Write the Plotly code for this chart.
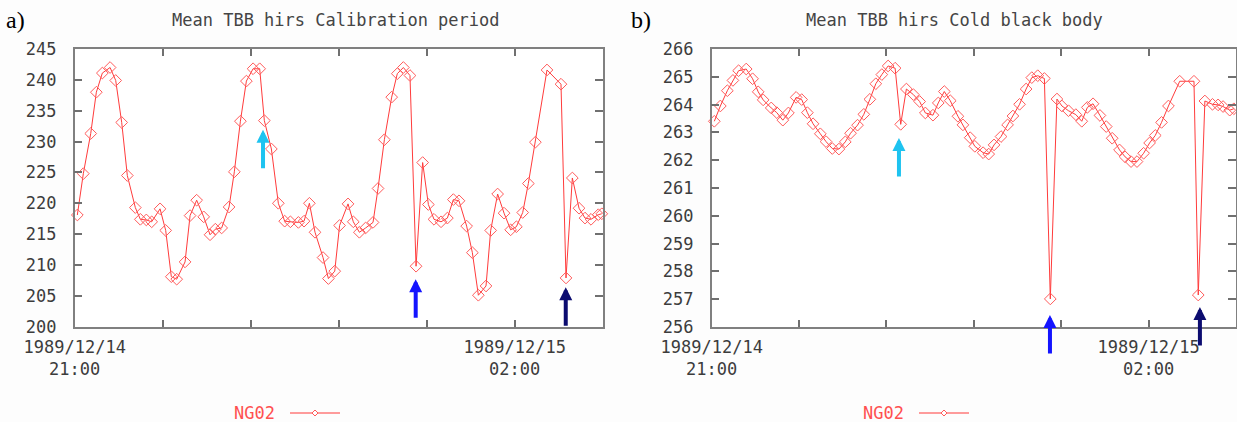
import pandas as pd
import plotly.graph_objects as go

W, H = 1237, 422

# ---------------- data ----------------
start_time = "1989-12-14 21:00"
series_name = "NG02"
title_a = "Mean TBB hirs Calibration period"
title_b = "Mean TBB hirs Cold black body"

# hours after 21:00
a_hours = [0.030, 0.098, 0.182, 0.246, 0.314, 0.402, 0.466, 0.534, 0.598, 0.689, 0.746, 0.814, 0.875,
           0.970, 1.034, 1.098, 1.159, 1.254, 1.311, 1.386, 1.466, 1.538, 1.598, 1.670, 1.754, 1.814,
           1.883, 1.951, 2.027, 2.102, 2.155, 2.235, 2.314, 2.386, 2.451, 2.542, 2.606, 2.667, 2.731,
           2.822, 2.883, 2.955, 3.010, 3.106, 3.166, 3.235, 3.306, 3.390, 3.447, 3.519, 3.602, 3.666,
           3.735, 3.810, 3.879, 3.954, 4.019, 4.083, 4.163, 4.235, 4.303, 4.367, 4.454, 4.519, 4.587,
           4.674, 4.727, 4.806, 4.879, 4.954, 5.019, 5.091, 5.155, 5.235, 5.367, 5.526, 5.583, 5.655,
           5.731, 5.799, 5.867, 5.950, 5.990]
a_vals = [218.1, 224.8, 231.3, 238.0, 241.1, 242.0, 239.9, 233.1, 224.5, 219.3, 217.4, 217.3, 217.0,
          219.1, 215.6, 208.1, 207.7, 210.5, 218.0, 220.5, 217.8, 214.9, 215.8, 216.0, 219.4, 225.1,
          233.3, 239.8, 241.8, 241.8, 233.4, 228.8, 220.0, 217.1, 217.0, 216.9, 217.1, 220.0, 215.3,
          211.2, 207.8, 209.0, 216.4, 219.9, 217.0, 215.3, 216.0, 216.9, 222.4, 230.3, 237.2, 241.0,
          242.0, 240.7, 209.8, 226.6, 219.8, 217.4, 217.0, 217.6, 220.6, 220.4, 216.3, 212.0, 205.1,
          206.6, 215.6, 221.5, 218.4, 215.7, 216.2, 218.5, 223.2, 229.9, 241.6, 239.3, 207.9, 224.1,
          219.2, 217.6, 217.4, 218.15, 218.3]

b_hours = [0.030, 0.099, 0.179, 0.243, 0.308, 0.395, 0.468, 0.532, 0.589, 0.681, 0.745, 0.814, 0.878,
           0.966, 1.030, 1.095, 1.160, 1.243, 1.308, 1.380, 1.456, 1.529, 1.589, 1.669, 1.741, 1.810,
           1.878, 1.947, 2.019, 2.099, 2.163, 2.228, 2.308, 2.380, 2.445, 2.532, 2.593, 2.662, 2.730,
           2.818, 2.875, 2.958, 3.011, 3.106, 3.170, 3.231, 3.311, 3.386, 3.447, 3.523, 3.598, 3.663,
           3.731, 3.807, 3.875, 3.951, 4.008, 4.083, 4.167, 4.235, 4.299, 4.364, 4.443, 4.515, 4.583,
           4.667, 4.731, 4.799, 4.867, 4.943, 5.011, 5.076, 5.148, 5.227, 5.356, 5.519, 5.568, 5.644,
           5.731, 5.795, 5.852, 5.928, 5.975]
b_vals = [263.4, 263.95, 264.5, 264.87, 265.22, 265.28, 264.93, 264.46, 264.17, 263.88, 263.71, 263.44,
          263.7, 264.26, 264.18, 263.71, 263.31, 262.95, 262.67, 262.42, 262.4, 262.66, 262.97, 263.26,
          263.65, 264.19, 264.75, 265.08, 265.39, 265.31, 263.29, 264.56, 264.36, 264.11, 263.7, 263.62,
          264.06, 264.47, 264.14, 263.58, 263.27, 262.81, 262.5, 262.27, 262.22, 262.55, 262.85, 263.27,
          263.59, 264.01, 264.56, 264.97, 265.04, 264.94, 257.01, 264.2, 263.95, 263.78, 263.64, 263.4,
          263.9, 264.03, 263.61, 263.21, 262.79, 262.37, 262.12, 261.95, 261.95, 262.25, 262.62, 262.89,
          263.36, 263.95, 264.84, 264.84, 257.15, 264.13, 264.01, 263.99, 263.93, 263.8, 263.85]

tick_hours = [0, 1, 2, 3, 4, 5, 6]
tick_labels = ["1989/12/14<br>21:00", "", "", "", "", "1989/12/15<br>02:00", ""]
a_yticks = [200, 205, 210, 215, 220, 225, 230, 235, 240, 245]
b_yticks = [256, 257, 258, 259, 260, 261, 262, 263, 264, 265, 266]

# arrows: (hours, value at arrow tip, colour)
a_arrows = [(2.14, 231.9, "#1ec3f0"), (3.875, 207.7, "#1414ff"), (5.58, 206.4, "#0c0c70")]
b_arrows = [(2.143, 262.8, "#1ec3f0"), (3.871, 256.43, "#1414ff"), (5.587, 256.72, "#0c0c70")]

# ---------------- helpers ----------------
t0 = pd.Timestamp(start_time)


def to_time(hours):
    return [t0 + pd.Timedelta(hours=h) for h in hours]


def px(x):
    return x / W


def py(y):
    return 1 - y / H


LINE_COLOR = "#ff3b3b"
MARK_COLOR = "#ff5a5a"
MONO = "DejaVu Sans Mono"
TXT = "#3c3c3c"
FS = 17

fig = go.Figure()
fig.add_trace(go.Scatter(x=to_time(a_hours), y=a_vals, mode="lines+markers", name=series_name,
                         line=dict(color=LINE_COLOR, width=1),
                         marker=dict(symbol="diamond-open", size=9, color=MARK_COLOR, line=dict(width=1)),
                         xaxis="x", yaxis="y", showlegend=False, cliponaxis=False))
fig.add_trace(go.Scatter(x=to_time(b_hours), y=b_vals, mode="lines+markers", name=series_name,
                         line=dict(color=LINE_COLOR, width=1),
                         marker=dict(symbol="diamond-open", size=9, color=MARK_COLOR, line=dict(width=1)),
                         xaxis="x2", yaxis="y2", showlegend=False, cliponaxis=False))

xcommon = dict(type="date", range=[t0, t0 + pd.Timedelta(hours=6)],
               tickmode="array", tickvals=to_time(tick_hours), ticktext=tick_labels,
               ticks="inside", ticklen=7, tickwidth=1.5, tickcolor="#707070",
               showline=True, linecolor="#808080", linewidth=1.5, mirror="ticks",
               showgrid=False, zeroline=False, ticklabelstandoff=4, automargin=False,
               tickfont=dict(family=MONO, size=FS, color=TXT))
ycommon = dict(ticks="inside", ticklen=8, tickwidth=1.5, tickcolor="#707070",
               showline=True, linecolor="#808080", linewidth=1.5, mirror="ticks",
               showgrid=False, zeroline=False, ticklabelstandoff=13, tickmode="array",
               automargin=False, tickfont=dict(family=MONO, size=FS, color=TXT))

fig.update_layout(
    width=W, height=H, margin=dict(l=0, r=0, t=0, b=0, autoexpand=False),
    paper_bgcolor="#fdfdfd", plot_bgcolor="#ffffff",
    xaxis=dict(domain=[px(74.7), px(602.7)], anchor="y", **xcommon),
    yaxis=dict(domain=[py(326.7), py(49)], anchor="x", range=[200, 245], tickvals=a_yticks, **ycommon),
    xaxis2=dict(domain=[px(711.7), px(1236)], anchor="y2", **xcommon),
    yaxis2=dict(domain=[py(327), py(49)], anchor="x2", range=[256, 266], tickvals=b_yticks, **ycommon),
)

annotations = []
# titles and panel letters
annotations.append(dict(text=title_a, x=px(336), y=py(20), xref="paper", yref="paper", showarrow=False,
                        font=dict(family=MONO, size=FS, color="#454545"), xanchor="center", yanchor="middle"))
annotations.append(dict(text=title_b, x=px(955), y=py(20), xref="paper", yref="paper", showarrow=False,
                        font=dict(family=MONO, size=FS, color="#454545"), xanchor="center", yanchor="middle"))
annotations.append(dict(text="a)", x=px(4), y=py(20), xref="paper", yref="paper", showarrow=False,
                        font=dict(family="Liberation Serif", size=24, color="#000000"),
                        xanchor="left", yanchor="middle"))
annotations.append(dict(text="b)", x=px(629), y=py(20), xref="paper", yref="paper", showarrow=False,
                        font=dict(family="Liberation Serif", size=24, color="#000000"),
                        xanchor="left", yanchor="middle"))

# arrows
for arrows, xr, yr in [(a_arrows, "x", "y"), (b_arrows, "x2", "y2")]:
    for h, v, c in arrows:
        annotations.append(dict(text="", x=t0 + pd.Timedelta(hours=h), y=v, xref=xr, yref=yr,
                                showarrow=True, ax=0, ay=40, arrowhead=2, arrowsize=0.65,
                                arrowwidth=4, arrowcolor=c, standoff=0))

# legend-like keys
shapes = []
for text_right, line_l, line_r, y in [(277, 290, 340, 413), (906, 919, 969, 413)]:
    annotations.append(dict(text=series_name, x=px(text_right), y=py(y), xref="paper", yref="paper",
                            showarrow=False, xanchor="right", yanchor="middle",
                            font=dict(family=MONO, size=FS, color="#ff5050")))
    shapes.append(dict(type="line", xref="paper", yref="paper", x0=px(line_l), x1=px(line_r),
                       y0=py(y), y1=py(y), line=dict(color=LINE_COLOR, width=1.2)))
    cx = (line_l + line_r) / 2
    shapes.append(dict(type="path", xref="paper", yref="paper",
                       path=f"M {px(cx-3)},{py(y)} L {px(cx)},{py(y-3)} L {px(cx+3)},{py(y)} "
                            f"L {px(cx)},{py(y+3)} Z",
                       line=dict(color=MARK_COLOR, width=1), fillcolor="#ffffff"))

fig.update_layout(annotations=annotations, shapes=shapes)
fig.write_html("out.html")
